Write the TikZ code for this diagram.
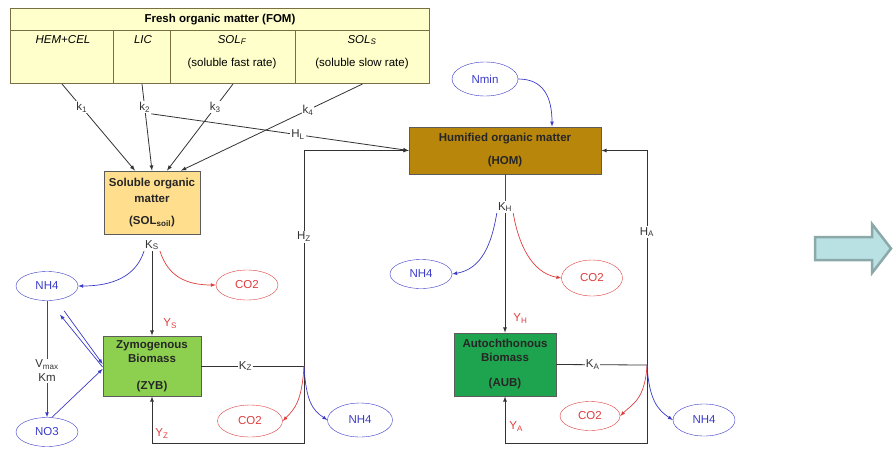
\documentclass[tikz,border=0pt]{standalone}
\usepackage{fontspec}
\setmainfont{Liberation Sans}
\usetikzlibrary{shapes.geometric}
\definecolor{fomfill}{HTML}{FFFFCC}
\definecolor{fomline}{HTML}{7A6E45}
\definecolor{solfill}{HTML}{FFDF8E}
\definecolor{homfill}{HTML}{B8860B}
\definecolor{zybfill}{HTML}{8DD04F}
\definecolor{aubfill}{HTML}{1EA44E}
\definecolor{nblue}{HTML}{3A3AC8}
\definecolor{cred}{HTML}{E03C3C}
\definecolor{flow}{HTML}{333333}
\definecolor{arrfill}{HTML}{B9E1E4}
\definecolor{arrline}{HTML}{8CA9AA}

\begin{document}
\begin{tikzpicture}[x=1pt,y=-1pt,>=latex,
  every node/.style={font=\fontsize{11.5}{14}\selectfont},
  fomcell/.style={draw=fomline,fill=fomfill,line width=1pt,anchor=north west,minimum height=53,inner sep=0},
  pool/.style={draw=flow!80,line width=0.8pt,align=center,inner sep=0,font=\bfseries\fontsize{11.5}{15}\selectfont,text=black!85},
  nitro/.style={ellipse,draw=nblue,text=nblue,minimum width=62,minimum height=29,inner sep=0},
  carb/.style={ellipse,draw=cred,text=cred,minimum width=62,minimum height=30,inner sep=0},
  lbl/.style={fill=white,inner sep=1pt,text=flow},
  ylbl/.style={text=cred,inner sep=1pt,anchor=west},
  flux/.style={draw=flow,line width=0.8pt},
  nflux/.style={draw=nblue,line width=0.7pt},
  cflux/.style={draw=cred,line width=0.7pt},
  bigarrow/.style={draw=arrline,fill=arrfill,line width=2.5pt,line join=miter}]
\useasboundingbox (0,0) rectangle (896,453);

\node[fomcell,minimum width=419,minimum height=22,font=\bfseries\fontsize{11.5}{14}\selectfont] (fom) at (10,8) {Fresh organic matter (FOM)};
\node[fomcell,minimum width=103] (hem) at (10,30) {};
\node[fomcell,minimum width=57] (lic) at (113,30) {};
\node[fomcell,minimum width=125] (solf) at (170,30) {};
\node[fomcell,minimum width=134] (sols) at (295,30) {};
\node (hemt) at (63,40) {\textit{HEM+CEL}};
\node (lict) at (143,40) {\textit{LIC}};
\node (solft) at (232,40) {\textit{SOL\textsubscript{F}}};
\node (solfr) at (232,64) {(soluble fast rate)};
\node (solst) at (362,40) {\textit{SOL\textsubscript{S}}};
\node (solsr) at (362,64) {(soluble slow rate)};

\node[pool,fill=solfill,minimum width=96,minimum height=63] (sol) at (152,202.5) {Soluble organic\\[1pt]matter\\[7pt](SOL\textsubscript{soil})};
\node[pool,fill=homfill,minimum width=192,minimum height=47] (hom) at (505,150.5) {Humified organic matter\\[8pt](HOM)};
\node[pool,fill=zybfill,minimum width=98,minimum height=60] (zyb) at (152,366) {Zymogenous\\[-1pt]Biomass\\[12pt](ZYB)};
\node[pool,fill=aubfill,minimum width=102,minimum height=63] (aub) at (505,364.5) {Autochthonous\\[-1pt]Biomass\\[10pt](AUB)};

\node[nitro,minimum width=66,minimum height=34] (nmin) at (485,79) {Nmin};
\node[nitro] (nh4a) at (47,286) {NH4};
\node[nitro] (no3) at (47,432) {NO3};
\node[carb] (co2a) at (247,285) {CO2};
\node[carb,minimum width=65,minimum height=32] (co2b) at (250,421) {CO2};
\node[nitro,minimum width=65,minimum height=34] (nh4c) at (360,420) {NH4};
\node[nitro] (nh4b) at (421,274) {NH4};
\node[carb,minimum width=61,minimum height=36] (co2c) at (592,278) {CO2};
\node[carb,minimum width=60,minimum height=29] (co2d) at (590,416) {CO2};
\node[nitro,minimum width=62,minimum height=32] (nh4d) at (704,420) {NH4};

\node[lbl] (ks) at (152,245) {K\textsubscript{S}};
\node[lbl] (kh) at (505,207) {K\textsubscript{H}};
\coordinate (jz) at (304,366);
\coordinate (zb) at (304,443);
\coordinate (ja) at (647,365);
\coordinate (za) at (647,443);

\draw[flux,->] (hem.south) -- node[lbl,pos=.27] {k\textsubscript{1}} ([xshift=-17pt]sol.north);
\draw[flux,->] (lic.south) -- node[lbl,pos=.27] (k2) {k\textsubscript{2}} (sol.north);
\draw[flux,->] (solf.south) -- node[lbl,pos=.27] {k\textsubscript{3}} ([xshift=15pt]sol.north);
\draw[flux,->] (sols.south) -- node[lbl,pos=.3] {k\textsubscript{4}} ([xshift=29pt]sol.north);
\draw[flux,->] (k2.south east) -- node[lbl,pos=.57] {H\textsubscript{L}} (hom.west);

\draw[flux,->] (ks) -- node[ylbl,pos=.86,xshift=10pt] {Y\textsubscript{S}} (zyb.north);
\draw[nflux,->] (ks.south west) .. controls +(-8,25) and +(35,0) .. (nh4a.east);
\draw[cflux,->] (ks.south east) .. controls +(8,25) and +(-30,0) .. (co2a.west);
\draw[nflux,->] (nh4a) -- node[lbl,pos=.6,align=center] {V\textsubscript{max}\\Km} (no3);
\draw[nflux,->] ([xshift=17pt,yshift=-10pt]nh4a.south) -- ([yshift=2pt]zyb.west);
\draw[nflux,->] ([yshift=-1pt]zyb.west) -- ([xshift=13pt,yshift=-14pt]nh4a.south);
\draw[nflux,->] ([xshift=5pt]no3.north) -- ([yshift=-3pt]zyb.west);

\draw[flux] (zyb.east) -- node[lbl,pos=.43] {K\textsubscript{Z}} (jz);
\draw[flux,->] (jz) |- node[lbl,pos=.3] {H\textsubscript{Z}} (hom.west);
\draw[flux,->] (jz) -- (zb) -| node[ylbl,pos=.6,xshift=2pt] {Y\textsubscript{Z}} (zyb.south);
\draw[cflux,->] (jz) .. controls +(-2,35) and +(12,-12) .. (co2b.east);
\draw[nflux,->] (jz) .. controls +(2,35) and +(-15,-10) .. (nh4c.west);

\draw[nflux,->] (nmin.east) .. controls +(25,0) and +(0,-30) .. ([xshift=47pt]hom.north);
\draw[nflux] (hom.south) -- (kh);
\draw[flux,->] (kh) -- node[ylbl,pos=.88,xshift=7pt] {Y\textsubscript{H}} (aub.north);
\draw[nflux,->] (kh.south west) .. controls +(-5,30) and +(30,-5) .. (nh4b.east);
\draw[cflux,->] (kh.south east) .. controls +(5,30) and +(-30,-5) .. (co2c.west);

\draw[flux] (aub.east) -- node[lbl,pos=.4] {K\textsubscript{A}} (ja);
\draw[flux,->] (ja) |- node[lbl,pos=.31] {H\textsubscript{A}} (hom.east);
\draw[flux,->] (ja) -- (za) -| node[ylbl,pos=.68,xshift=3pt] {Y\textsubscript{A}} (aub.south);
\draw[cflux,->] (ja) .. controls +(-2,35) and +(12,-12) .. (co2d.east);
\draw[nflux,->] (ja) .. controls +(2,35) and +(-15,-10) .. (nh4d.west);

\draw[bigarrow] (815,237) -- (872,237) -- (872,224) -- (891,248.5) -- (872,273) -- (872,260) -- (815,260) -- cycle;
\end{tikzpicture}
\end{document}
